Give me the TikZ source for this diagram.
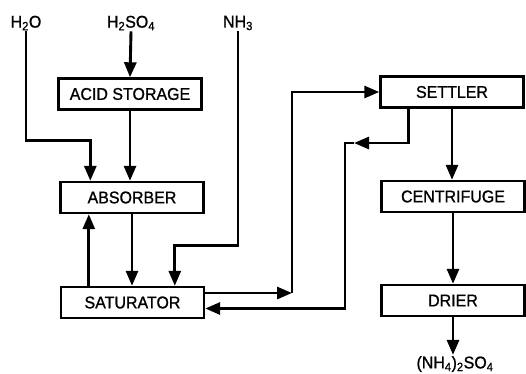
\documentclass[tikz,border=0pt]{standalone}
\usepackage{fontspec}
\setmainfont{Liberation Sans}[FakeStretch=0.94, FakeBold=1]
\usetikzlibrary{arrows.meta, positioning, calc}
\tikzset{
    procBlock/.style={
        draw=black, fill=white, line width=2.4pt, minimum width=143pt, minimum height=31pt, align=center, font=\fontsize{17}{19}\selectfont, inner sep=2pt
    },
    procArrow/.style={
        -{Triangle[length=15pt, width=12pt]}, line width=2.9pt, draw=black
    },
    feedLabel/.style={
        font=\fontsize{17}{19}\selectfont, inner sep=1pt
    }
}
\begin{document}
\begin{tikzpicture}[x=1pt, y=-1pt]
    \useasboundingbox (0,0) rectangle (526,373);

    % ── FEED LABELS
    \node[feedLabel] (h2o) at (26, 23) {H\textsubscript{2}O};
    \node[feedLabel] (h2so4) at (131, 23) {H\textsubscript{2}SO\textsubscript{4}};
    \node[feedLabel] (nh3) at (238, 23) {NH\textsubscript{3}};

    % ── LEFT COLUMN
    \node[procBlock] (acid) at (130, 94) {ACID STORAGE};
    \node[procBlock] (absorber) at (132, 197.5) {ABSORBER};
    \node[procBlock] (saturator) at (132.5, 302.5) {SATURATOR};

    % ── RIGHT COLUMN
    \node[procBlock] (settler) at (452, 92) {SETTLER};
    \node[procBlock] (centrifuge) at (453, 196.5) {CENTRIFUGE};
    \node[procBlock] (drier) at (453, 300.5) {DRIER};
    \node[feedLabel] (product) at (455, 364) {(NH\textsubscript{4})\textsubscript{2}SO\textsubscript{4}};

    % ── BEND POINTS
    \coordinate (riseUp) at (292, 293);
    \coordinate (retTip) at (354, 143);
    \coordinate (retCorner) at (345, 143);

    % ── CONNECTORS & ARROWS
    \draw[procArrow] (h2o.south) -- ++(0,109) -| ([xshift=31pt]absorber.north west);
    \draw[procArrow] (h2so4.south) -- (acid.north);
    \draw[procArrow] (acid.south) -- (acid.south |- absorber.north);
    \draw[procArrow] (absorber.south) -- (absorber.south |- saturator.north);
    \draw[procArrow] ([xshift=29pt]saturator.north west) -- ([xshift=29pt]saturator.north west |- absorber.south);
    \draw[procArrow] (nh3.south) -- ++(0,214) -| ([xshift=115pt]saturator.north west);
    \draw[procArrow] ([yshift=9.5pt]saturator.east) -- (riseUp);
    \draw[procArrow] (riseUp) |- (settler.west);
    \draw[procArrow] ([xshift=29pt]settler.south west) |- (retTip);
    \draw[procArrow] (retTip) -- (retCorner) |- ([yshift=-6pt]saturator.east);
    \draw[procArrow] (settler.south) -- (settler.south |- centrifuge.north);
    \draw[procArrow] (centrifuge.south) -- (drier.north);
    \draw[procArrow] (drier.south) -- (drier.south |- product.north);
\end{tikzpicture}
\end{document}
